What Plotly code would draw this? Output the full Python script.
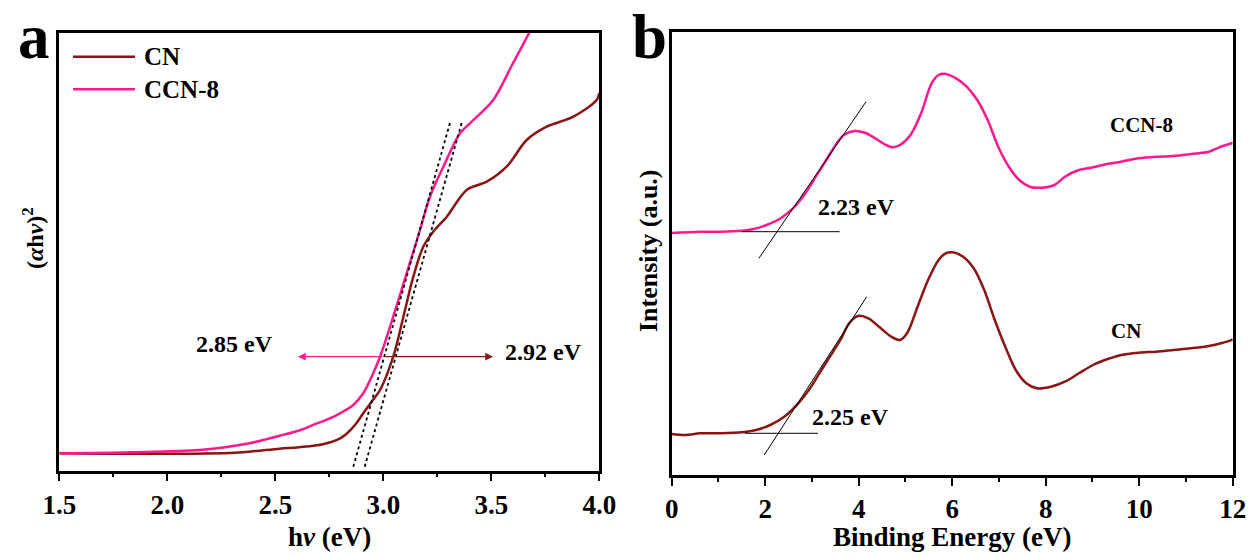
import plotly.graph_objects as go

# ---------------- Panel a data ----------------
a_cn_x = [1.5, 1.83, 2.29, 2.38, 2.52, 2.61, 2.72, 2.80, 2.83, 2.869, 2.907, 2.946, 2.985, 3.046,
          3.093, 3.139, 3.185, 3.231, 3.294, 3.386, 3.479, 3.571, 3.664, 3.756, 3.88, 3.988, 4.0]
a_cn_y = [17.4, 16.9, 17.8, 19.0, 22.0, 23.5, 26.5, 32.4, 37.0, 45.7, 57.4, 69.0, 80.7, 114.0,
          154.0, 194.0, 224.0, 239.0, 254.0, 280.7, 289.0, 304.0, 330.7, 344.0, 354.0, 370.7, 377.7]

a_ccn_x = [1.5, 1.83, 2.15, 2.38, 2.52, 2.614, 2.69, 2.75, 2.80, 2.861, 2.907, 2.946, 2.985, 3.046,
           3.108, 3.170, 3.216, 3.278, 3.355, 3.401, 3.509, 3.596, 3.68, 3.72]
a_ccn_y = [17.4, 18.4, 20.7, 27.4, 35.0, 40.5, 47.0, 52.0, 57.4, 65.7, 77.4, 94.0, 114.0, 154.0,
           197.4, 240.7, 274.0, 304.0, 337.4, 347.4, 370.7, 405.7, 440.0, 460.0]

# tangent (dotted) lines, panel a
a_tan1_x = [2.861, 3.309]
a_tan1_y = [4.0, 348.0]
a_tan2_x = [2.914, 3.363]
a_tan2_y = [4.0, 348.0]

# band gap arrows, panel a
a_arrow_y = 114.0
a_ccn_arrow = [3.003, 2.605]   # tail -> head
a_cn_arrow = [3.003, 3.508]
a_labels = ["2.85 eV", "2.92 eV"]

# ---------------- Panel b data ----------------
b_ccn_x = [0.0, 0.605, 1.056, 1.506, 1.731, 2.032, 2.332, 2.631, 2.858, 3.082, 3.307, 3.532, 3.683,
           3.908, 4.133, 4.357, 4.584, 4.734, 4.884, 5.108, 5.335, 5.559, 5.709, 5.859, 6.083,
           6.310, 6.535, 6.759, 6.984, 7.211, 7.435, 7.660, 7.923, 8.186, 8.411, 8.710, 9.012,
           9.311, 9.613, 9.987, 10.362, 10.738, 11.112, 11.489, 11.713, 11.977, 12.0]
b_ccn_y = [242.0, 243.3, 243.3, 244.3, 245.7, 250.0, 256.7, 268.3, 281.7, 298.3, 315.0, 331.7, 340.0,
           344.0, 342.3, 336.7, 330.0, 327.7, 330.0, 340.0, 361.7, 391.7, 400.0, 401.0, 396.7,
           388.3, 375.0, 355.0, 328.3, 308.3, 295.0, 288.3, 287.3, 290.0, 298.3, 305.0, 307.7,
           311.0, 313.3, 316.7, 318.3, 319.0, 321.0, 323.3, 327.7, 331.7, 332.0]

b_cn_x = [0.0, 0.30, 0.605, 1.056, 1.506, 1.806, 2.107, 2.407, 2.707, 2.933, 3.158, 3.383, 3.608,
          3.796, 3.983, 4.208, 4.434, 4.696, 4.884, 5.034, 5.259, 5.484, 5.709, 5.859, 6.009,
          6.234, 6.460, 6.685, 6.910, 7.135, 7.360, 7.585, 7.811, 8.111, 8.411, 8.710, 9.012,
          9.311, 9.613, 9.987, 10.362, 10.738, 11.112, 11.489, 11.789, 11.977, 12.0]
b_cn_y = [41.0, 40.0, 41.7, 41.7, 42.7, 45.0, 50.0, 58.3, 71.7, 85.0, 101.7, 118.3, 135.0,
          151.7, 159.0, 156.7, 148.3, 138.3, 135.0, 141.7, 168.3, 195.0, 215.0, 221.7, 222.7,
          218.3, 206.7, 185.0, 155.0, 128.3, 105.0, 91.7, 86.7, 88.3, 93.3, 101.7, 110.0,
          115.7, 120.0, 122.3, 123.3, 125.0, 126.7, 129.0, 132.3, 135.0, 136.0]

# tangent lines, panel b
b_ccn_tan_x = [1.865, 4.157]
b_ccn_tan_y = [216.7, 373.3]
b_ccn_base_x = [1.506, 3.591]
b_ccn_base_y = [243.3, 243.3]
b_cn_tan_x = [1.979, 4.171]
b_cn_tan_y = [20.0, 178.3]
b_cn_base_x = [1.568, 3.13]
b_cn_base_y = [41.7, 41.7]
b_labels = ["2.23 eV", "2.25 eV"]

a_ticks = [1.5, 2.0, 2.5, 3.0, 3.5, 4.0]
a_ticktext = ["1.5", "2.0", "2.5", "3.0", "3.5", "4.0"]
b_ticks = [0, 2, 4, 6, 8, 10, 12]

CN_COLOR = "#8B1414"
CCN_COLOR = "#FF1A8C"
FONT = "Liberation Serif"
W, H = 1252, 557

fig = go.Figure()
spl = dict(shape="spline", smoothing=0.9)

# Panel a
fig.add_trace(go.Scatter(x=a_cn_x, y=a_cn_y, mode="lines", line=dict(color=CN_COLOR, width=2.5, **spl),
                         name="CN", xaxis="x", yaxis="y", showlegend=False))
fig.add_trace(go.Scatter(x=a_ccn_x, y=a_ccn_y, mode="lines", line=dict(color=CCN_COLOR, width=2.5, **spl),
                         name="CCN-8", xaxis="x", yaxis="y", showlegend=False))
for tx, ty in [(a_tan1_x, a_tan1_y), (a_tan2_x, a_tan2_y)]:
    fig.add_trace(go.Scatter(x=tx, y=ty, mode="lines", line=dict(color="black", width=1.8, dash="dot"),
                             xaxis="x", yaxis="y", showlegend=False))

# Panel b
fig.add_trace(go.Scatter(x=b_ccn_x, y=b_ccn_y, mode="lines", line=dict(color=CCN_COLOR, width=2.5, **spl),
                         name="CCN-8", xaxis="x2", yaxis="y2", showlegend=False))
fig.add_trace(go.Scatter(x=b_cn_x, y=b_cn_y, mode="lines", line=dict(color=CN_COLOR, width=2.5, **spl),
                         name="CN", xaxis="x2", yaxis="y2", showlegend=False))
for tx, ty in [(b_ccn_tan_x, b_ccn_tan_y), (b_ccn_base_x, b_ccn_base_y),
               (b_cn_tan_x, b_cn_tan_y), (b_cn_base_x, b_cn_base_y)]:
    fig.add_trace(go.Scatter(x=tx, y=ty, mode="lines", line=dict(color="black", width=1),
                             xaxis="x2", yaxis="y2", showlegend=False))

tickfont = dict(family=FONT, size=27, color="black", weight="bold")
common_x = dict(showline=True, linewidth=2.5, linecolor="black", mirror=True, ticks="outside",
                ticklen=8, tickwidth=2, tickcolor="black", tickfont=tickfont, showgrid=False,
                zeroline=False, fixedrange=True, automargin=False)
common_y = dict(showline=True, linewidth=2.5, linecolor="black", mirror=True, ticks="",
                showticklabels=False, showgrid=False, zeroline=False, fixedrange=True, automargin=False)

fig.update_layout(
    width=W, height=H, margin=dict(l=0, r=0, t=0, b=0, autoexpand=False),
    paper_bgcolor="white", plot_bgcolor="white",
    xaxis=dict(domain=[59.3 / W, 599.3 / W], range=[1.5, 4.0], tickvals=a_ticks, ticktext=a_ticktext,
               minor=dict(dtick=0.25, tick0=1.5, ticks="outside", ticklen=4, tickwidth=2, tickcolor="black"),
               anchor="y", **common_x),
    yaxis=dict(domain=[1 - 470.7 / H, 1 - 33 / H], range=[0, 437.7], anchor="x", **common_y),
    xaxis2=dict(domain=[671.7 / W, 1232.7 / W], range=[0, 12], tickvals=b_ticks,
                minor=dict(dtick=1, tick0=0, ticks="outside", ticklen=4, tickwidth=2, tickcolor="black"),
                anchor="y2", **common_x),
    yaxis2=dict(domain=[1 - 475 / H, 1 - 32.3 / H], range=[0, 442.7], anchor="x2", **common_y),
)


def txt(text, x, y, xref, yref, size, xanchor="center", yanchor="middle", angle=0):
    return dict(text=text, x=x, y=y, xref=xref, yref=yref, showarrow=False, xanchor=xanchor,
                yanchor=yanchor, textangle=angle,
                font=dict(family=FONT, size=size, color="black", weight="bold"))


annotations = [
    txt(a_labels[0], 2.309, 126.7, "x", "y", 24),
    txt(a_labels[1], 3.743, 118.7, "x", "y", 24),
    txt(b_labels[0], 3.96, 268.3, "x2", "y2", 24),
    txt(b_labels[1], 3.83, 57.7, "x2", "y2", 24),
    txt("CCN-8", 10.04, 350.0, "x2", "y2", 21),
    txt("CN", 9.72, 144.3, "x2", "y2", 21),
    # panel letters
    txt("a", 34 / W, 1.0, "paper", "paper", 63, yanchor="top"),
    txt("b", 649 / W, 1.0, "paper", "paper", 63, yanchor="top"),
    # axis titles
    txt("h<i>ν</i> (eV)", (59.3 + 599.3) / 2 / W, 1 - 537 / H, "paper", "paper", 27),
    txt("Binding Energy (eV)", (671.7 + 1232.7) / 2 / W, 1 - 537 / H, "paper", "paper", 27),
    txt("(<i>α</i>h<i>ν</i>)<sup>2</sup>", 33 / W, 1 - 238 / H, "paper", "paper", 24, angle=-90),
    txt("Intensity (a.u.)", 648 / W, 1 - 250 / H, "paper", "paper", 26, angle=-90),
    # arrows
    dict(x=a_ccn_arrow[1], y=a_arrow_y, ax=a_ccn_arrow[0], ay=a_arrow_y, xref="x", yref="y",
         axref="x", ayref="y", showarrow=True, arrowhead=2, arrowsize=1.2, arrowwidth=1.3,
         arrowcolor=CCN_COLOR, text=""),
    dict(x=a_cn_arrow[1], y=a_arrow_y, ax=a_cn_arrow[0], ay=a_arrow_y, xref="x", yref="y",
         axref="x", ayref="y", showarrow=True, arrowhead=2, arrowsize=1.2, arrowwidth=1.3,
         arrowcolor=CN_COLOR, text=""),
]

# manual legend for panel a
legend_items = [("CN", CN_COLOR, 0.9459), ("CCN-8", CCN_COLOR, 0.8714)]
shapes = []
for name, col, yy in legend_items:
    shapes.append(dict(type="line", xref="x domain", yref="y domain", x0=0.0254, x1=0.1402, y0=yy, y1=yy,
                       line=dict(color=col, width=2.5)))
    annotations.append(txt(name, 0.1526, yy, "x domain", "y domain", 25, xanchor="left"))

fig.update_layout(annotations=annotations, shapes=shapes)
fig.write_html("out.html", config={"displayModeBar": False},
               post_script="document.body.style.margin='0';document.body.style.padding='0';")
